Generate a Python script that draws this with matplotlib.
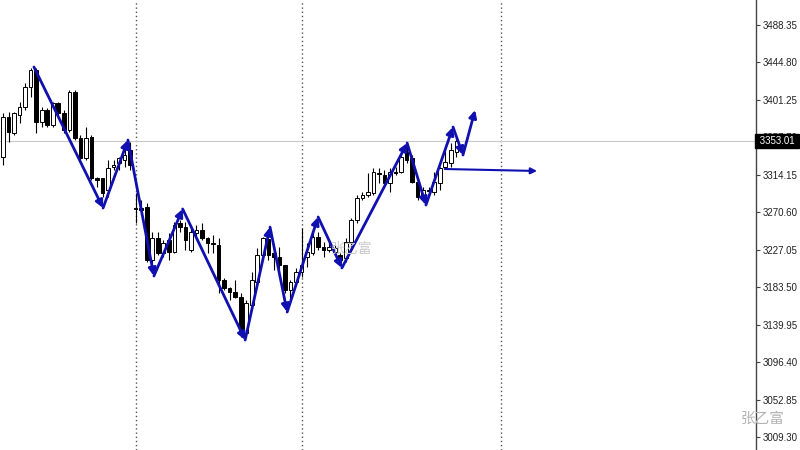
import matplotlib.pyplot as plt
import numpy as np

plt.rcParams['font.family'] = ['Liberation Sans', 'DejaVu Sans', 'Noto Sans CJK SC']

# candle data (open, close, high, low)
opens = [3334.8, 3381.3, 3362.7, 3383.7, 3393.0, 3416.2, 3436.0, 3375.5, 3389.5, 3372.0,
         3397.6, 3386.0, 3366.3, 3410.4, 3356.9, 3333.7, 3358.1, 3310.4, 3310.4, 3296.5,
         3323.2, 3327.9, 3331.4, 3343.0, 3275.5, 3275.5, 3276.7, 3215.1, 3240.7, 3223.2,
         3238.3, 3224.4, 3258.1, 3253.4, 3226.7, 3246.5, 3250.0, 3240.7, 3234.8, 3232.5,
         3191.8, 3182.5, 3177.9, 3172.0, 3130.2, 3162.7, 3189.5, 3220.9, 3239.5, 3223.2,
         3218.6, 3209.3, 3180.2, 3189.5, 3201.1, 3218.6, 3223.2, 3241.8, 3230.2, 3226.7,
         3224.4, 3220.9, 3217.4, 3236.0, 3261.6, 3287.2, 3290.7, 3293.0, 3316.2, 3313.9,
         3304.6, 3317.4, 3317.4, 3340.7, 3333.7, 3305.8, 3288.3, 3296.5, 3294.1, 3304.6,
         3323.2, 3327.9, 3340.7]
closes = [3381.3, 3363.9, 3386.0, 3393.0, 3416.2, 3436.0, 3375.5, 3389.5, 3372.0, 3397.6,
          3386.0, 3366.3, 3410.4, 3356.9, 3333.7, 3356.9, 3310.4, 3308.1, 3293.0, 3322.1,
          3325.5, 3333.7, 3337.2, 3325.5, 3274.4, 3273.2, 3215.1, 3240.7, 3223.2, 3234.8,
          3224.4, 3255.8, 3253.4, 3238.3, 3247.6, 3250.0, 3240.7, 3234.8, 3233.7, 3191.8,
          3182.5, 3177.9, 3172.0, 3130.2, 3165.1, 3191.8, 3220.9, 3240.7, 3220.9, 3218.6,
          3209.3, 3180.2, 3189.5, 3201.1, 3209.3, 3224.4, 3241.8, 3230.2, 3226.7, 3230.2,
          3229.0, 3215.1, 3236.0, 3261.6, 3287.2, 3290.7, 3294.1, 3317.4, 3315.1, 3304.6,
          3317.4, 3316.2, 3334.8, 3331.4, 3305.8, 3288.3, 3296.5, 3295.3, 3305.8, 3322.1,
          3329.0, 3343.0, 3353.0]
highs = [3386.0, 3387.2, 3387.2, 3398.8, 3420.9, 3438.3, 3438.3, 3393.0, 3391.8, 3398.8,
         3398.8, 3389.5, 3412.7, 3412.7, 3360.4, 3369.7, 3360.4, 3311.6, 3310.4, 3331.4,
         3331.4, 3334.8, 3346.5, 3352.3, 3293.0, 3284.8, 3281.4, 3247.6, 3247.6, 3238.3,
         3246.5, 3259.3, 3261.6, 3259.3, 3253.4, 3255.8, 3258.1, 3241.8, 3244.1, 3240.7,
         3194.2, 3183.7, 3191.8, 3176.7, 3168.6, 3201.1, 3229.0, 3241.8, 3247.6, 3230.2,
         3230.2, 3209.3, 3191.8, 3205.8, 3252.3, 3234.8, 3247.6, 3247.6, 3236.0, 3236.0,
         3232.5, 3223.2, 3240.7, 3264.0, 3290.7, 3294.1, 3316.2, 3322.1, 3322.1, 3319.7,
         3322.1, 3323.2, 3339.5, 3351.1, 3337.2, 3308.1, 3300.0, 3300.0, 3317.4, 3323.2,
         3343.0, 3351.1, 3356.9]
lows = [3325.5, 3352.3, 3360.4, 3374.4, 3389.5, 3404.6, 3362.7, 3369.7, 3369.7, 3369.7,
        3383.7, 3362.7, 3363.9, 3354.6, 3331.4, 3331.4, 3308.1, 3300.0, 3288.3, 3288.3,
        3319.7, 3319.7, 3323.2, 3319.7, 3258.1, 3267.4, 3212.8, 3203.5, 3220.9, 3218.6,
        3215.1, 3223.2, 3247.6, 3226.7, 3224.4, 3241.8, 3238.3, 3223.2, 3223.2, 3176.7,
        3180.2, 3168.6, 3170.9, 3125.6, 3125.6, 3160.4, 3188.3, 3218.6, 3215.1, 3203.5,
        3195.4, 3176.7, 3168.6, 3188.3, 3195.4, 3207.0, 3220.9, 3226.7, 3218.6, 3224.4,
        3220.9, 3211.6, 3212.8, 3230.2, 3258.1, 3284.8, 3288.3, 3290.7, 3304.6, 3300.0,
        3294.1, 3313.9, 3316.2, 3327.9, 3304.6, 3284.8, 3284.8, 3293.0, 3290.7, 3296.5,
        3323.2, 3323.2, 3334.8]

# zigzag wave points (bar index, price)
zz_x = [5.6, 18.1, 22.6, 27.3, 32.5, 43.8, 48.3, 51.4, 57.0, 61.3, 73.1, 76.5, 81.4, 83.2, 85.4]
zz_y = [3439.5, 3275.5, 3354.6, 3196.5, 3274.4, 3122.1, 3253.4, 3154.6, 3265.1, 3205.8,
        3351.1, 3279.0, 3369.7, 3337.2, 3389.5]
target_x = [79.9, 96.6]
target_y = [3320.9, 3318.6]

separators = [24, 54, 90]
yticks = [3009.30, 3052.85, 3096.40, 3139.95, 3183.50, 3227.05, 3270.60,
          3314.15, 3357.70, 3401.25, 3444.80, 3488.35]
last_price = 3353.01

fig = plt.figure(figsize=(8, 4.5), dpi=100)
ax = fig.add_axes([0, 0, 0.945, 1])

x = np.arange(len(opens))
o = np.array(opens)
c = np.array(closes)
ax.vlines(x, lows, highs, color='black', linewidth=0.8, zorder=2)
bottoms = np.minimum(o, c)
heights = np.maximum(np.abs(c - o), 0.6)
colors = ['white' if cc >= oo else 'black' for oo, cc in zip(o, c)]
ax.bar(x, heights, bottom=bottoms, width=0.66, color=colors, edgecolor='black',
       linewidth=0.7, zorder=3)

for s in separators:
    ax.axvline(s, color='#555555', linestyle=(0, (1, 2)), linewidth=1, zorder=1)

ax.axhline(last_price, color='#c8c8c8', linewidth=0.8, zorder=1)

blue = '#1010b0'
for i in range(len(zz_x) - 1):
    ax.annotate('', xy=(zz_x[i + 1], zz_y[i + 1]), xytext=(zz_x[i], zz_y[i]),
                arrowprops=dict(arrowstyle='-|>', color=blue, lw=2, mutation_scale=11,
                                shrinkA=0, shrinkB=0), zorder=5)
ax.annotate('', xy=(target_x[1], target_y[1]), xytext=(target_x[0], target_y[0]),
            arrowprops=dict(arrowstyle='-|>', color=blue, lw=1.5, mutation_scale=9,
                            shrinkA=0, shrinkB=0), zorder=5)

ax.set_xlim(-0.54, 136.2)
ax.set_ylim(2994.2, 3517.4)
ax.set_xticks([])
ax.yaxis.tick_right()
ax.set_yticks(yticks)
ax.set_yticklabels([f'{v:.2f}' for v in yticks], fontsize=7, color='#222222')
ax.tick_params(axis='y', length=3, color='#444444', pad=2)
for side in ['top', 'left', 'bottom']:
    ax.spines[side].set_visible(False)
ax.spines['right'].set_color('#444444')
ax.spines['right'].set_linewidth(1)

ax.text(1.0015, last_price, ' ' + f'{last_price:.2f}' + ' ', transform=ax.get_yaxis_transform(),
        ha='left', va='center', fontsize=7, color='white',
        bbox=dict(boxstyle='square,pad=0.2', facecolor='black', edgecolor='black'),
        zorder=10, clip_on=False)

fig.text(0.44, 0.447, '张乙富', fontsize=10, color='#c8c8c8', ha='center', va='center',
         family=['Noto Sans CJK SC', 'DejaVu Sans'])
fig.text(0.953, 0.07, '张乙富', fontsize=10.5, color='#b4b4b4', ha='center', va='center',
         family=['Noto Sans CJK SC', 'DejaVu Sans'])

plt.savefig('out.png', dpi=100)
